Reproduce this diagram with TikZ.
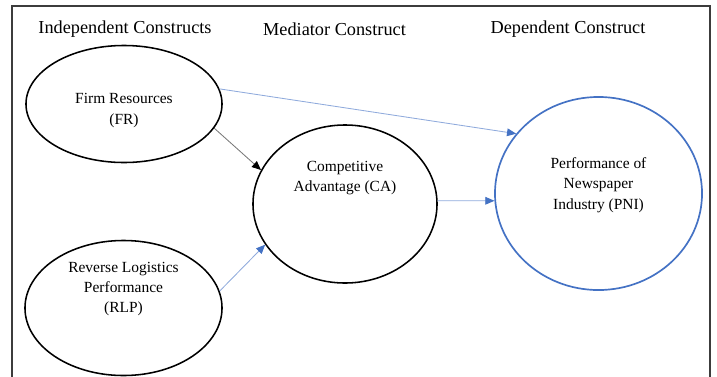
\documentclass[tikz,border=0pt]{standalone}
\usepackage{fontspec}
\setmainfont{Liberation Serif}
\usetikzlibrary{arrows.meta}
\usetikzlibrary{shapes.geometric}

\definecolor{pniblue}{RGB}{68,114,196}
\definecolor{linkblue}{RGB}{143,170,220}
\definecolor{linkgrey}{RGB}{120,120,120}
\definecolor{framegrey}{RGB}{60,60,60}

\begin{document}
\begin{tikzpicture}[x=0.025cm,y=-0.025cm]
            \tikzstyle{construct}=[ellipse,draw=black,line width=1.1pt,inner sep=0pt]
            \tikzstyle{heading}=[font=\fontsize{13}{15}\selectfont]
            \tikzstyle{caption}=[align=center,font=\fontsize{11}{14.5}\selectfont]
            \tikzstyle{bluelink}=[draw=linkblue,line width=0.6pt,-{Triangle[length=6.5pt,width=5.5pt,color=pniblue]}]
            \tikzstyle{greylink}=[draw=linkgrey,line width=0.6pt,-{Triangle[length=6.5pt,width=5.5pt,color=black]}]

            \useasboundingbox (0,0) rectangle (717,376);
            \draw[framegrey,line width=1.3pt] (12,400) -- (12,6) -- (710,6) -- (710,400);

            \node[heading] (hind) at (125,29)   {Independent Constructs};
            \node[heading] (hmed) at (334.5,29) {Mediator Construct};
            \node[heading] (hdep) at (568,29)   {Dependent Construct};

            \node[construct,minimum width=4.9cm,minimum height=2.925cm]   (FR)  at (124,104)     {};
            \node[construct,minimum width=4.925cm,minimum height=3.375cm] (RLP) at (123.5,308)   {};
            \node[construct,minimum width=4.6cm,minimum height=3.95cm]    (CA)  at (345,204)     {};
            \node[construct,draw=pniblue,line width=1.2pt,minimum width=5.175cm,minimum height=4.825cm] (PNI) at (598.5,193.5) {};

            \node[caption] (FRt)  at (124,110.5)   {Firm Resources\\(FR)};
            \node[caption] (RLPt) at (123.5,289)   {Reverse Logistics\\Performance\\(RLP)};
            \node[caption] (CAt)  at (345,178)     {Competitive\\Advantage (CA)};
            \node[caption] (PNIt) at (598.5,185)   {Performance of\\Newspaper\\Industry (PNI)};

            \path[bluelink] (FR.9)   -- (PNI.144);
            \path[greylink] (FR.-15) -- (CA.158);
            \path[bluelink] (RLP.10) -- (CA.-153);
            \path[bluelink] (CA.2)   -- (PNI.184);
\end{tikzpicture}
\end{document}
